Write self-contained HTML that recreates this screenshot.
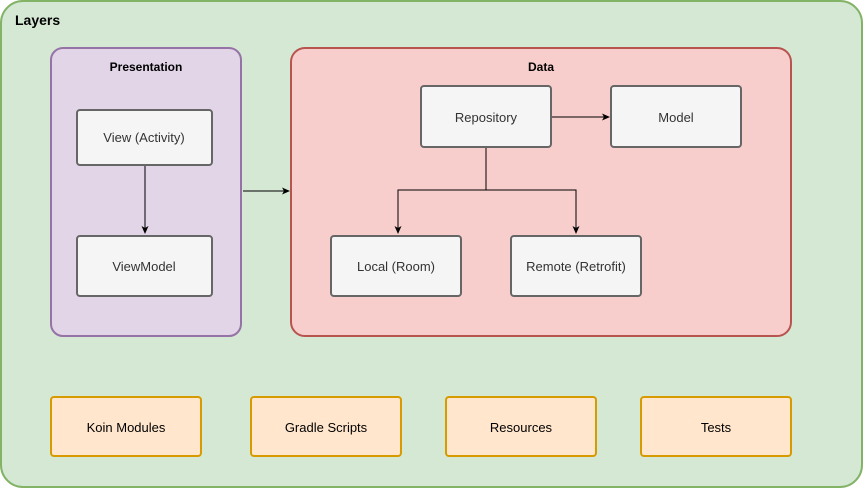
<!DOCTYPE html>
<html><head><style>html,body{margin:0;padding:0;background:#fff}svg{display:block}text{font-family:"Liberation Sans",Helvetica,Arial,sans-serif;font-size:13px;fill:#333}</style></head>
<body>
<svg width="864" height="489" viewBox="0 0 864 489" xmlns="http://www.w3.org/2000/svg">
<defs><marker id="a" markerWidth="8" markerHeight="8" refX="7" refY="4" orient="auto" markerUnits="userSpaceOnUse"><path d="M0,0.5 L8,4 L0,7.5 L2,4 Z" fill="#000"/></marker></defs>
<rect x="1" y="1" width="861" height="486" rx="22" fill="#d5e8d4" stroke="#82b366" stroke-width="2"/>
<text x="15" y="25" style="font-weight:bold;font-size:14px;fill:#000">Layers</text>
<rect x="51" y="48" width="190" height="288" rx="12" fill="#e1d5e7" stroke="#9673a6" stroke-width="2"/>
<text x="146" y="71" text-anchor="middle" style="font-weight:bold;font-size:12px;fill:#000">Presentation</text>
<rect x="291" y="48" width="500" height="288" rx="14" fill="#f8cecc" stroke="#b85450" stroke-width="2"/>
<text x="541" y="71" text-anchor="middle" style="font-weight:bold;font-size:12px;fill:#000">Data</text>
<g fill="#f5f5f5" stroke="#666" stroke-width="2">
<rect x="77" y="110" width="135" height="55" rx="3"/>
<rect x="77" y="236" width="135" height="60" rx="3"/>
<rect x="421" y="86" width="130" height="61" rx="3"/>
<rect x="611" y="86" width="130" height="61" rx="3"/>
<rect x="331" y="236" width="130" height="60" rx="3"/>
<rect x="511" y="236" width="130" height="60" rx="3"/>
</g>
<g stroke="#000" stroke-width="1" fill="none">
<path d="M145 166 V233" marker-end="url(#a)"/>
<path d="M243 191 H289" marker-end="url(#a)"/>
<path d="M552 117 H609" marker-end="url(#a)"/>
<path d="M486 148 V190 H398 V233" marker-end="url(#a)"/>
<path d="M486 190 H576 V233" marker-end="url(#a)"/>
</g>
<g text-anchor="middle">
<text x="144" y="142">View (Activity)</text>
<text x="144" y="271">ViewModel</text>
<text x="486" y="122">Repository</text>
<text x="676" y="122">Model</text>
<text x="396" y="271">Local (Room)</text>
<text x="576" y="271">Remote (Retrofit)</text>
</g>
<g fill="#ffe6cc" stroke="#d79b00" stroke-width="2">
<rect x="51" y="397" width="150" height="59" rx="3"/>
<rect x="251" y="397" width="150" height="59" rx="3"/>
<rect x="446" y="397" width="150" height="59" rx="3"/>
<rect x="641" y="397" width="150" height="59" rx="3"/>
</g>
<g text-anchor="middle" style="fill:#000">
<text x="126" y="432" style="fill:#000">Koin Modules</text>
<text x="326" y="432" style="fill:#000">Gradle Scripts</text>
<text x="521" y="432" style="fill:#000">Resources</text>
<text x="716" y="432" style="fill:#000">Tests</text>
</g>
</svg>
</body></html>
